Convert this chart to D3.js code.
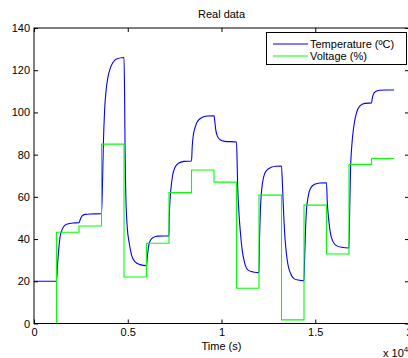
<!DOCTYPE html>
<html>
<head>
<meta charset="utf-8">
<script src="https://cdn.jsdelivr.net/npm/d3@7/dist/d3.min.js"></script>
<style>
  html, body { margin: 0; padding: 0; background: #fff; }
  svg { display: block; }
  text { font-family: "Liberation Sans", Arial, Helvetica, sans-serif; fill: #000; }
</style>
</head>
<body>
<svg id="chart" width="408" height="358"></svg>
<script>
// Voltage set-points: a new level every 1200 s
const voltageTimes = [0, 1200, 2400, 3600, 4800, 6000, 7200, 8400, 9600, 10800, 12000, 13200, 14400, 15600, 16800, 18000, 19200];
const voltageValues = [0, 43.2, 46.2, 85, 22, 38, 62, 72.7, 67, 16.7, 60.8, 1.7, 56.1, 32.9, 75.4, 78.2, 78.2];

// Measured temperature (ºC)
const tempTimes = [
  0, 1200, 1250, 1300, 1390, 1480, 1560, 1740, 2080,
  2400, 2450, 2500, 2580, 2720, 3000,
  3600, 3650, 3700, 3760, 3850, 3950, 4050, 4200, 4400,
  4800, 4830, 4860, 4900, 4970, 5080, 5200, 5380, 5650,
  6000, 6050, 6120, 6220, 6360, 6620,
  7200, 7215, 7260, 7300, 7390, 7510, 7700, 8000,
  8400, 8440, 8500, 8580, 8700, 8930, 9250,
  9600, 9640, 9690, 9770, 9910, 10180,
  10800, 10830, 10860, 10920, 11010, 11100, 11240, 11420, 11690,
  12000, 12030, 12080, 12150, 12250, 12400, 12650, 12900,
  13200, 13250, 13320, 13390, 13460, 13550, 13680, 13850, 14080,
  14400, 14430, 14480, 14530, 14620, 14740, 14970, 15240,
  15600, 15640, 15720, 15810, 15950, 16130, 16400,
  16800, 16840, 16880, 16960, 17050, 17190, 17370, 17640,
  18000, 18040, 18080, 18200, 18430, 18800, 19200
];
const tempValues = [
  20, 20, 27, 33, 41, 44, 45.6, 47, 47.6,
  47.7, 48.8, 50, 51.1, 51.7, 51.9,
  52, 65, 85, 100, 111, 117, 120.5, 123.5, 125.3,
  126, 110, 80, 60, 46, 38, 32.5, 29.3, 27.9,
  27.4, 32, 37, 39.6, 40.8, 41.4,
  41.5, 50, 59, 63.5, 70, 73.8, 75.9, 76.8,
  77, 84, 89.5, 92.5, 95.5, 97.5, 98.3,
  98.4, 96, 92, 89, 87.2, 86.3,
  86, 78, 66, 54, 43, 35, 28.5, 25.3, 24.4,
  24.1, 40, 55, 64, 69.5, 72.5, 74, 74.5,
  74.6, 66, 51, 40, 33.3, 27.7, 23.8, 21.4, 20.6,
  20.3, 30, 44, 53.5, 60, 64, 66, 66.6,
  66.7, 58, 49, 42.7, 38.8, 36.9, 36.1,
  35.8, 55, 72, 85.4, 93, 99.5, 103, 104.3,
  104.5, 106.5, 108.2, 109.8, 110.5, 110.6, 110.6
];

const xTicks = [0, 5000, 10000, 15000, 20000];
const yTicks = [0, 20, 40, 60, 80, 100, 120, 140];

const svg = d3.select("#chart");
const plotLeft = 34, plotRight = 409, plotTop = 28, plotBottom = 323.5;

const x = d3.scaleLinear().domain([0, 20000]).range([plotLeft, plotRight]);
const y = d3.scaleLinear().domain([0, 140]).range([plotBottom, plotTop]);

// Data lines
const tempData = tempTimes.map((t, i) => [t, tempValues[i]]);
const voltData = voltageTimes.map((t, i) => [t, voltageValues[i]]);

svg.append("path")
  .datum(tempData)
  .attr("fill", "none")
  .attr("stroke", "#0000ff")
  .attr("stroke-width", 1.1)
  .attr("d", d3.line().x(d => x(d[0])).y(d => y(d[1])).curve(d3.curveMonotoneX));

svg.append("path")
  .datum(voltData)
  .attr("fill", "none")
  .attr("stroke", "#00ff00")
  .attr("stroke-width", 1.1)
  .attr("d", d3.line().x(d => x(d[0])).y(d => y(d[1])).curve(d3.curveStepAfter));

// Axes box
svg.append("rect")
  .attr("x", plotLeft).attr("y", plotTop)
  .attr("width", plotRight - plotLeft).attr("height", plotBottom - plotTop)
  .attr("fill", "none").attr("stroke", "#000").attr("stroke-width", 1);

const fmtX = d => d3.format("~g")(d / 10000);

const gx = svg.append("g").attr("transform", `translate(0,${plotBottom})`)
  .call(d3.axisBottom(x).tickValues(xTicks).tickFormat(fmtX).tickSizeInner(-4).tickSizeOuter(0).tickPadding(5));
const gxTop = svg.append("g").attr("transform", `translate(0,${plotTop})`)
  .call(d3.axisTop(x).tickValues(xTicks).tickFormat("").tickSizeInner(-4).tickSizeOuter(0));
const gy = svg.append("g").attr("transform", `translate(${plotLeft},0)`)
  .call(d3.axisLeft(y).tickValues(yTicks).tickFormat(d3.format("d")).tickSizeInner(-4).tickSizeOuter(0).tickPadding(4));
const gyRight = svg.append("g").attr("transform", `translate(${plotRight},0)`)
  .call(d3.axisRight(y).tickValues(yTicks).tickFormat("").tickSizeInner(-4).tickSizeOuter(0));

[gx, gxTop, gy, gyRight].forEach(g => {
  g.select(".domain").remove();
  g.selectAll("line").attr("stroke", "#000");
  g.selectAll("text").attr("font-size", 11).attr("font-family", null).attr("fill", "#000");
});

// Title and axis label
svg.append("text").attr("x", (plotLeft + plotRight) / 2).attr("y", 18)
  .attr("text-anchor", "middle").attr("font-size", 11).text("Real data");

svg.append("text").attr("x", (plotLeft + plotRight) / 2).attr("y", 350)
  .attr("text-anchor", "middle").attr("font-size", 11).text("Time (s)");

const mult = svg.append("text").attr("x", 383).attr("y", 357).attr("font-size", 11);
mult.append("tspan").text("x 10");
mult.append("tspan").attr("font-size", 8).attr("dy", -5).text("4");

// Legend
const lg = svg.append("g");
lg.append("rect").attr("x", 266.5).attr("y", 32.5).attr("width", 140).attr("height", 32)
  .attr("fill", "#fff").attr("stroke", "#000").attr("stroke-width", 1);
const legendItems = [
  { label: "Temperature (ºC)", color: "#0000ff", yy: 44 },
  { label: "Voltage (%)", color: "#00ff00", yy: 56 }
];
legendItems.forEach(it => {
  lg.append("line").attr("x1", 273).attr("x2", 308).attr("y1", it.yy).attr("y2", it.yy)
    .attr("stroke", it.color).attr("stroke-width", 1.1);
  lg.append("text").attr("x", 310).attr("y", it.yy + 4).attr("font-size", 11).text(it.label);
});
</script>
</body>
</html>
